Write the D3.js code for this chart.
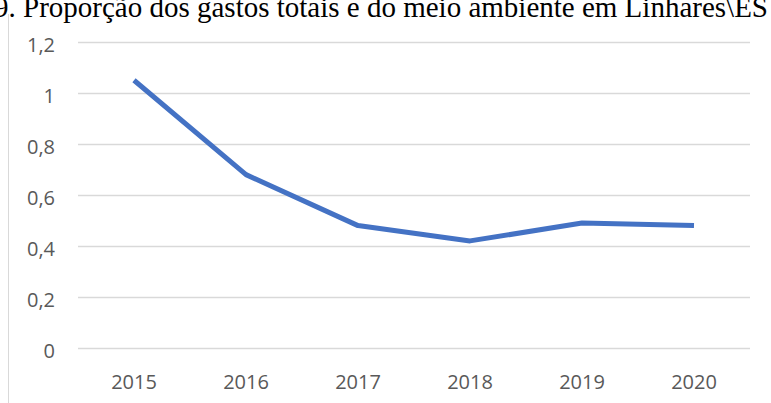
<!DOCTYPE html>
<html><head><meta charset="utf-8">
<script src="https://cdn.jsdelivr.net/npm/d3@7"></script>
<style>body{margin:0;background:#fff;} svg{display:block;}</style>
</head><body>
<svg id="c" width="771" height="403"></svg>
<script>
const title = "9. Proporção dos gastos totais e do meio ambiente em Linhares\\ES";
const years = ["2015","2016","2017","2018","2019","2020"];
const values = [1.05, 0.68, 0.48, 0.42, 0.49, 0.48];
const yTicks = [0, 0.2, 0.4, 0.6, 0.8, 1, 1.2];
const yTickLabels = ["0","0,2","0,4","0,6","0,8","1","1,2"];

const svg = d3.select("#c");
const W = 771, H = 403;
const m = {left:78, right:21, top:42, bottom:55};
const x = d3.scaleBand().domain(years).range([m.left, W - m.right]);
const y = d3.scaleLinear().domain([0, 1.2]).range([H - m.bottom, m.top]);

svg.append("rect").attr("width",W).attr("height",H).attr("fill","#fff");
// left border
svg.append("line").attr("x1",8.5).attr("x2",8.5).attr("y1",14).attr("y2",H)
  .attr("stroke","#d9d9d9").attr("stroke-width",1);

// gridlines
svg.append("g").selectAll("line").data(yTicks).join("line")
  .attr("x1", m.left).attr("x2", W - m.right)
  .attr("y1", d => Math.round(y(d)) + 0.5).attr("y2", d => Math.round(y(d)) + 0.5)
  .attr("stroke","#d9d9d9").attr("stroke-width",1.5);

// y labels
svg.append("g").selectAll("text").data(yTicks).join("text")
  .attr("x", 55).attr("y", d => y(d) + 5)
  .attr("text-anchor","end").attr("dominant-baseline","middle")
  .attr("font-family","'Open Sans', sans-serif").attr("font-size",20)
  .attr("fill","#595959")
  .text((d,i) => yTickLabels[i]);

// x labels
svg.append("g").selectAll("text").data(years).join("text")
  .attr("x", d => x(d) + x.bandwidth()/2).attr("y", 384)
  .attr("text-anchor","middle").attr("dominant-baseline","middle")
  .attr("font-family","'Open Sans', sans-serif").attr("font-size",20)
  .attr("fill","#595959")
  .text(d => d);

// line
const line = d3.line().x((d,i) => x(years[i]) + x.bandwidth()/2).y(d => y(d));
svg.append("path").datum(values).attr("d", line)
  .attr("fill","none").attr("stroke","#4472C4").attr("stroke-width",5)
  .attr("stroke-linejoin","round").attr("stroke-linecap","butt");

// title (cut off at top and sides, as in the reference)
svg.append("text").attr("x", -6).attr("y", 17)
  .attr("font-family","'Liberation Serif', 'Times New Roman', serif").attr("font-size",29)
  .attr("fill","#000").text(title);
</script>
</body></html>
